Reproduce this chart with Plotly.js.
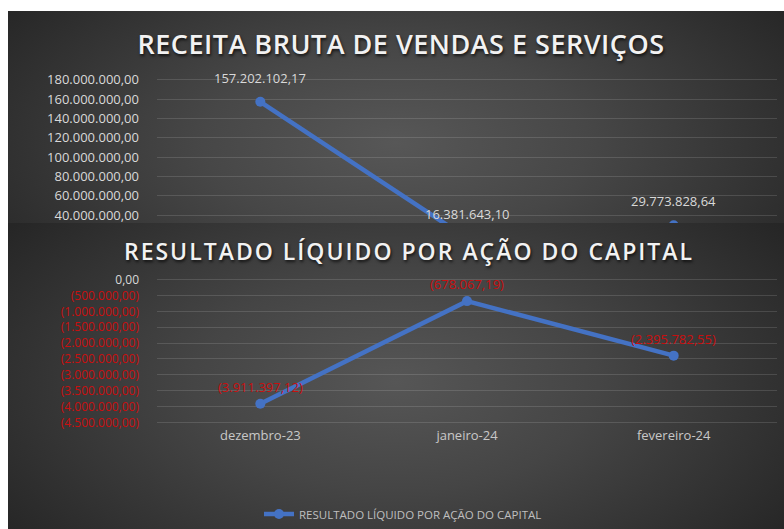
<!DOCTYPE html>
<html><head><meta charset="utf-8">
<script src="https://cdn.plot.ly/plotly-3.0.1.min.js"></script>
<style>
html,body{margin:0;padding:0;background:#fff;width:784px;height:529px;overflow:hidden}
#c1wrap{position:absolute;left:8px;top:11px;width:776px;height:212px;overflow:hidden;
  background:radial-gradient(ellipse 62% 110% at 50% 62%,#575757 0%,#474747 40%,#262626 100%)}
#c2wrap{position:absolute;left:8px;top:223px;width:776px;height:306px;overflow:hidden;
  background:radial-gradient(ellipse 62% 85% at 50% 52%,#565656 0%,#454545 42%,#262626 100%)}
#c2 .gtitle{letter-spacing:2px}
#c1 .gtitle{letter-spacing:0.5px}
</style></head><body>
<div id="c1wrap"><div id="c1"></div></div>
<div id="c2wrap"><div id="c2"></div></div>
<script>
const categories = ['dezembro-23', 'janeiro-24', 'fevereiro-24'];
const receitaValues = [157202102.17, 16381643.10, 29773828.64];
const resultadoValues = [-3911397.12, -678067.19, -2395782.55];
const receitaTickVals = [40e6, 60e6, 80e6, 100e6, 120e6, 140e6, 160e6, 180e6];
const receitaTickText = ['40.000.000,00', '60.000.000,00', '80.000.000,00', '100.000.000,00',
  '120.000.000,00', '140.000.000,00', '160.000.000,00', '180.000.000,00'];
const resultadoTickVals = [0, -500000, -1000000, -1500000, -2000000, -2500000, -3000000, -3500000, -4000000, -4500000];
const resultadoTickText = ['0,00', '(500.000,00)', '(1.000.000,00)', '(1.500.000,00)', '(2.000.000,00)',
  '(2.500.000,00)', '(3.000.000,00)', '(3.500.000,00)', '(4.000.000,00)', '(4.500.000,00)'];
const title1 = 'RECEITA BRUTA DE VENDAS E SERVIÇOS';
const title2 = 'RESULTADO LÍQUIDO POR AÇÃO DO CAPITAL';

const RED = '#c80f0f';
const LIGHT = '#d9d9d9';
const BLUE = '#4472c4';
const GRID = 'rgba(255,255,255,0.13)';
const FONT = 'Open Sans, Noto Sans, sans-serif';

function fmtBR(v) {
  const neg = v < 0;
  let parts = Math.abs(v).toFixed(2).split('.');
  let i = parts[0].replace(/\B(?=(\d{3})+(?!\d))/g, '.');
  const s = i + ',' + parts[1];
  return neg ? '(' + s + ')' : s;
}

const titleFont1 = {family: FONT, size: 27, weight: 600, color: '#f2f2f2', shadow: '1px 2px 3px rgba(0,0,0,0.7)'};
const titleFont2 = {family: FONT, size: 23, weight: 600, color: '#f2f2f2', shadow: '1px 2px 3px rgba(0,0,0,0.7)'};

// ---- Chart 1 ----
const H1 = 330;
Plotly.newPlot('c1', [{
  type: 'scatter', mode: 'lines+markers',
  x: categories, y: receitaValues,
  line: {color: BLUE, width: 4.5},
  marker: {color: BLUE, size: 10},
  hoverinfo: 'skip', showlegend: false
}], {
  width: 776, height: H1,
  margin: {l: 149, r: 7, t: 59, b: 87},
  paper_bgcolor: 'rgba(0,0,0,0)', plot_bgcolor: 'rgba(0,0,0,0)',
  showlegend: false,
  title: {text: title1, font: titleFont1, x: 393 / 776, xref: 'container', xanchor: 'center',
          y: 1 - 34 / H1, yref: 'container', yanchor: 'middle'},
  xaxis: {type: 'category', range: [-0.5, 2.5], showgrid: false, zeroline: false,
          showticklabels: false, showline: false, ticks: ''},
  yaxis: {range: [0, 190e6], tickmode: 'array', tickvals: receitaTickVals, ticktext: receitaTickText,
          gridcolor: GRID, gridwidth: 1, zeroline: false, showline: false, ticks: '',
          ticklabelstandoff: 17, tickfont: {family: FONT, size: 13, color: LIGHT}},
  annotations: categories.map((c, i) => ({
    x: c, y: receitaValues[i], xref: 'x', yref: 'y', text: fmtBR(receitaValues[i]),
    showarrow: false, yshift: 24, font: {family: FONT, size: 13, color: LIGHT}
  }))
}, {displayModeBar: false, staticPlot: true});

// ---- Chart 2 ----
const H2 = 306;
const ticktext2 = resultadoTickVals.map((v, i) =>
  v < 0 ? '<span style="color:' + RED + '">' + resultadoTickText[i] + '</span>' : resultadoTickText[i]);
Plotly.newPlot('c2', [{
  type: 'scatter', mode: 'lines+markers',
  name: title2,
  x: categories, y: resultadoValues,
  line: {color: BLUE, width: 4.5},
  marker: {color: BLUE, size: 10},
  hoverinfo: 'skip'
}], {
  width: 776, height: H2,
  margin: {l: 149, r: 7, t: 55, b: 105},
  paper_bgcolor: 'rgba(0,0,0,0)', plot_bgcolor: 'rgba(0,0,0,0)',
  showlegend: true,
  legend: {orientation: 'h', x: 395 / 776, xref: 'container', xanchor: 'center',
           y: 1 - 291 / H2, yref: 'container', yanchor: 'middle',
           font: {family: FONT, size: 11.5, color: '#bfbfbf'}, bgcolor: 'rgba(0,0,0,0)'},
  title: {text: title2, font: titleFont2, x: 401 / 776, xref: 'container', xanchor: 'center',
          y: 1 - 29 / H2, yref: 'container', yanchor: 'middle'},
  xaxis: {type: 'category', range: [-0.5, 2.5], showgrid: false, zeroline: false, showline: false,
          ticks: '', tickfont: {family: FONT, size: 13, color: '#c8c8c8'}, ticklabelstandoff: 2},
  yaxis: {range: [-4.55e6, 0.05e6], tickmode: 'array', tickvals: resultadoTickVals, ticktext: ticktext2,
          gridcolor: GRID, gridwidth: 1, zeroline: false, showline: false, ticks: '',
          ticklabelstandoff: 17, tickfont: {family: FONT, size: 12, color: LIGHT}},
  annotations: categories.map((c, i) => ({
    x: c, y: resultadoValues[i], xref: 'x', yref: 'y', text: fmtBR(resultadoValues[i]),
    showarrow: false, yshift: 17, font: {family: FONT, size: 13, color: RED}
  }))
}, {displayModeBar: false, staticPlot: true});
</script>
</body></html>
